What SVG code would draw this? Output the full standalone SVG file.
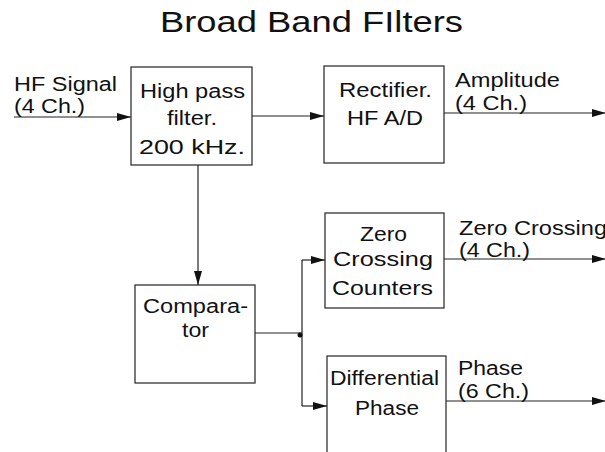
<svg xmlns="http://www.w3.org/2000/svg" width="605" height="452" viewBox="0 0 605 452">
<style>
text{font-family:"Liberation Sans",Arial,sans-serif;font-size:20px;fill:#111}
.title{font-size:29px}
.box{fill:#fff;stroke:#222;stroke-width:1.2}
.wire{fill:none;stroke:#222;stroke-width:1.2}
</style>
<defs>
<marker id="ah" markerUnits="userSpaceOnUse" markerWidth="15" markerHeight="9" refX="14" refY="4" orient="auto">
<path d="M0,0 L14,4 L0,8 z" fill="#111"/>
</marker>
</defs>
<rect width="605" height="452" fill="#fff"/>
<text class="title" x="160" y="32" textLength="303" lengthAdjust="spacingAndGlyphs">Broad Band FIlters</text>

<g id="connectors">
<line class="wire" x1="14" y1="117" x2="131" y2="117" marker-end="url(#ah)"/>
<line class="wire" x1="252" y1="116" x2="324" y2="116" marker-end="url(#ah)"/>
<line class="wire" x1="444" y1="113" x2="606" y2="113" marker-end="url(#ah)"/>
<line class="wire" x1="198" y1="165" x2="198" y2="285" marker-end="url(#ah)"/>
<polyline class="wire" points="255,333 302,333"/>
<line class="wire" x1="302" y1="260" x2="302" y2="406"/>
<line class="wire" x1="302" y1="260" x2="325" y2="260" marker-end="url(#ah)"/>
<line class="wire" x1="302" y1="406" x2="327" y2="406" marker-end="url(#ah)"/>
<circle cx="300" cy="335" r="2.5" fill="#111"/>
<line class="wire" x1="444" y1="259" x2="606" y2="259" marker-end="url(#ah)"/>
<line class="wire" x1="446" y1="401" x2="606" y2="401" marker-end="url(#ah)"/>
</g>

<g id="labels">
<text x="14" y="91" textLength="103" lengthAdjust="spacingAndGlyphs">HF Signal</text>
<text x="14" y="113" textLength="71" lengthAdjust="spacingAndGlyphs">(4 Ch.)</text>
<text x="455" y="87" textLength="105" lengthAdjust="spacingAndGlyphs">Amplitude</text>
<text x="455" y="110" textLength="72" lengthAdjust="spacingAndGlyphs">(4 Ch.)</text>
<text x="459" y="235" textLength="148" lengthAdjust="spacingAndGlyphs">Zero Crossing</text>
<text x="459" y="257" textLength="71" lengthAdjust="spacingAndGlyphs">(4 Ch.)</text>
<text x="458" y="375" textLength="65" lengthAdjust="spacingAndGlyphs">Phase</text>
<text x="458" y="398" textLength="71" lengthAdjust="spacingAndGlyphs">(6 Ch.)</text>
</g>

<g id="highpass">
<rect class="box" x="131" y="67" width="121" height="98"/>
<text x="140" y="98" textLength="105" lengthAdjust="spacingAndGlyphs">High pass</text>
<text x="167" y="125" textLength="50" lengthAdjust="spacingAndGlyphs">filter.</text>
<text x="139" y="154" textLength="106" lengthAdjust="spacingAndGlyphs">200 kHz.</text>
</g>

<g id="rectifier">
<rect class="box" x="324" y="66" width="120" height="97"/>
<text x="339" y="97" textLength="93" lengthAdjust="spacingAndGlyphs">Rectifier.</text>
<text x="347" y="125" textLength="76" lengthAdjust="spacingAndGlyphs">HF A/D</text>
</g>

<g id="comparator">
<rect class="box" x="135" y="285" width="120" height="98"/>
<text x="143" y="313" textLength="105" lengthAdjust="spacingAndGlyphs">Compara-</text>
<text x="182" y="337" textLength="27" lengthAdjust="spacingAndGlyphs">tor</text>
</g>

<g id="zerocrossing">
<rect class="box" x="325" y="213" width="119" height="95"/>
<text x="360" y="241" textLength="47" lengthAdjust="spacingAndGlyphs">Zero</text>
<text x="333" y="266" textLength="100" lengthAdjust="spacingAndGlyphs">Crossing</text>
<text x="332" y="295" textLength="101" lengthAdjust="spacingAndGlyphs">Counters</text>
</g>

<g id="differential">
<rect class="box" x="327" y="356" width="119" height="110"/>
<text x="330" y="385" textLength="109" lengthAdjust="spacingAndGlyphs">Differential</text>
<text x="355" y="415" textLength="64" lengthAdjust="spacingAndGlyphs">Phase</text>
</g>
</svg>
